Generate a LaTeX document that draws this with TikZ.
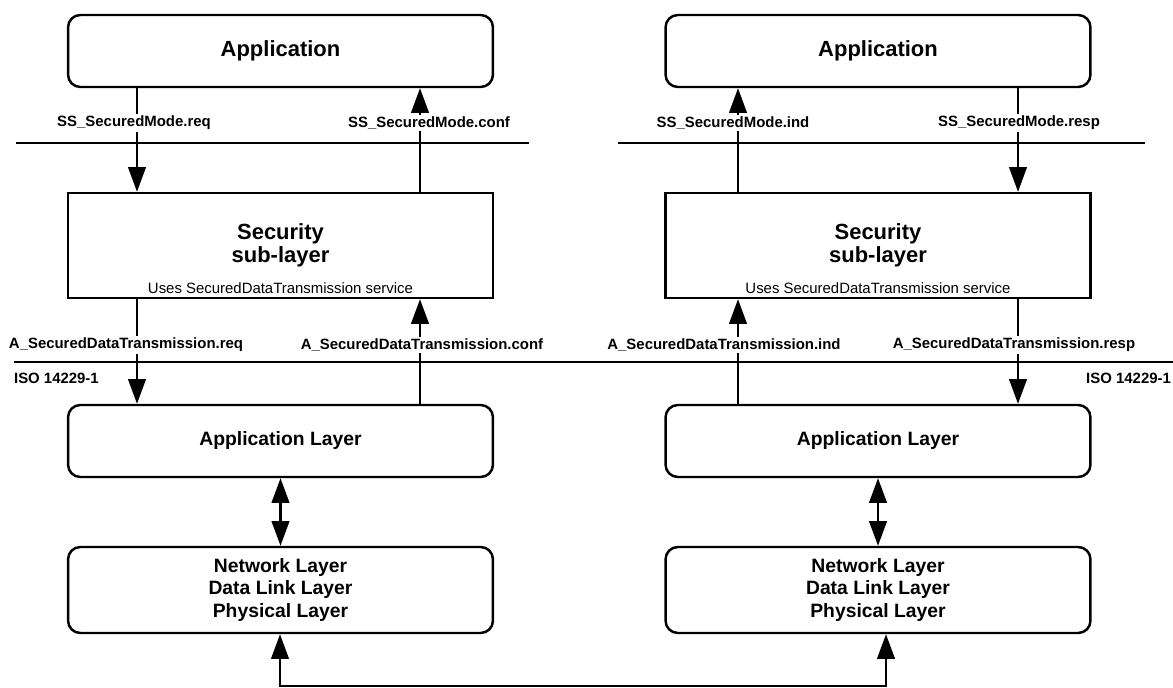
\documentclass[tikz,border=0pt]{standalone}
\usepackage{fontspec}
\setmainfont{Liberation Sans}
\usepackage{tikz}
\usetikzlibrary{shapes, arrows.meta, positioning}
\usetikzlibrary{calc}

\begin{document}
\begin{tikzpicture}
  [
    x=0.02cm, y=-0.02cm,
    Rounded/.style={rectangle, rounded corners=7pt, draw=black, line width=1.4pt, minimum width=8.5cm, align=center, font=\bfseries\fontsize{11}{13}\selectfont},
    Square/.style={rectangle, draw=black, line width=1.4pt, minimum width=8.5cm, minimum height=2.1cm, align=center, font=\bfseries\fontsize{12.5}{13}\selectfont},
    Prim/.style={fill=white, inner sep=1pt, font=\bfseries\fontsize{8.5}{10}\selectfont},
    Note/.style={inner sep=1pt, font=\fontsize{8.5}{10}\selectfont},
    Arrow/.style={draw, line width=1.2pt, -{Triangle[length=14pt, width=10pt]}},
    Both/.style={draw, line width=1.2pt, {Triangle[length=14pt, width=10pt]}-{Triangle[length=14pt, width=10pt]}},
    Sep/.style={draw, line width=1.4pt}
  ]
  \useasboundingbox (0,0) rectangle (1173,688);
  % Nodes
  \node[Rounded, minimum height=1.44cm, font=\bfseries\fontsize{12.5}{13}\selectfont] (app1) at (280.5, 51) {Application};
  \node[Rounded, minimum height=1.44cm, font=\bfseries\fontsize{12.5}{13}\selectfont] (app2) at (878, 51) {Application};
  \node[Square] (sec1) at (280.5, 245.5) {Security\\sub-layer};
  \node[Square] (sec2) at (878, 245.5) {Security\\sub-layer};
  \node[Note, above=2pt of sec1.south] (use1) {Uses SecuredDataTransmission service};
  \node[Note, above=2pt of sec2.south] (use2) {Uses SecuredDataTransmission service};
  \node[Rounded, minimum height=1.44cm] (al1) at (280.5, 441) {Application Layer};
  \node[Rounded, minimum height=1.44cm] (al2) at (878, 441) {Application Layer};
  \node[Rounded, minimum height=1.72cm] (nl1) at (280.5, 590) {Network Layer\\Data Link Layer\\Physical Layer};
  \node[Rounded, minimum height=1.72cm] (nl2) at (878, 590) {Network Layer\\Data Link Layer\\Physical Layer};
  \coordinate (xreq) at (137, 0);
  \coordinate (xconf) at (420, 0);
  \coordinate (xind) at (738, 0);
  \coordinate (xresp) at (1018, 0);
  \coordinate (bl) at (280, 686);
  \coordinate (br) at (886, 686);
  % Lines
  \path [Sep] (16, 143) -- (529, 143);
  \path [Sep] (618, 143) -- (1145, 143);
  \path [Sep] (14, 362) -- (1173, 362);
  \path [Arrow] (app1.south -| xreq) -- (sec1.north -| xreq);
  \path [Arrow] (sec1.north -| xconf) -- (app1.south -| xconf);
  \path [Arrow] (sec2.north -| xind) -- (app2.south -| xind);
  \path [Arrow] (app2.south -| xresp) -- (sec2.north -| xresp);
  \path [Arrow] (sec1.south -| xreq) -- (al1.north -| xreq);
  \path [Arrow] (al1.north -| xconf) -- (sec1.south -| xconf);
  \path [Arrow] (al2.north -| xind) -- (sec2.south -| xind);
  \path [Arrow] (sec2.south -| xresp) -- (al2.north -| xresp);
  \path [Both] (al1) -- (nl1);
  \path [Both] (al2) -- (nl2);
  \path [Both] (nl1.south -| bl) -- (bl) -- (br) -- (nl2.south -| br);
  % Labels
  \node[Prim] (lssreq) at (134, 123) {SS\_SecuredMode.req};
  \node[Prim] (lssconf) at (429, 123) {SS\_SecuredMode.conf};
  \node[Prim] (lssind) at (733, 123) {SS\_SecuredMode.ind};
  \node[Prim] (lssresp) at (1019, 123) {SS\_SecuredMode.resp};
  \node[Prim] (lareq) at (126, 345) {A\_SecuredDataTransmission.req};
  \node[Prim] (laconf) at (422, 345) {A\_SecuredDataTransmission.conf};
  \node[Prim] (laind) at (724, 345) {A\_SecuredDataTransmission.ind};
  \node[Prim] (laresp) at (1014, 345) {A\_SecuredDataTransmission.resp};
  \node[Prim, fill=none, anchor=west] (iso1) at (12, 378) {ISO 14229-1};
  \node[Prim, fill=none, anchor=east] (iso2) at (1173, 378) {ISO 14229-1};
\end{tikzpicture}
\end{document}
